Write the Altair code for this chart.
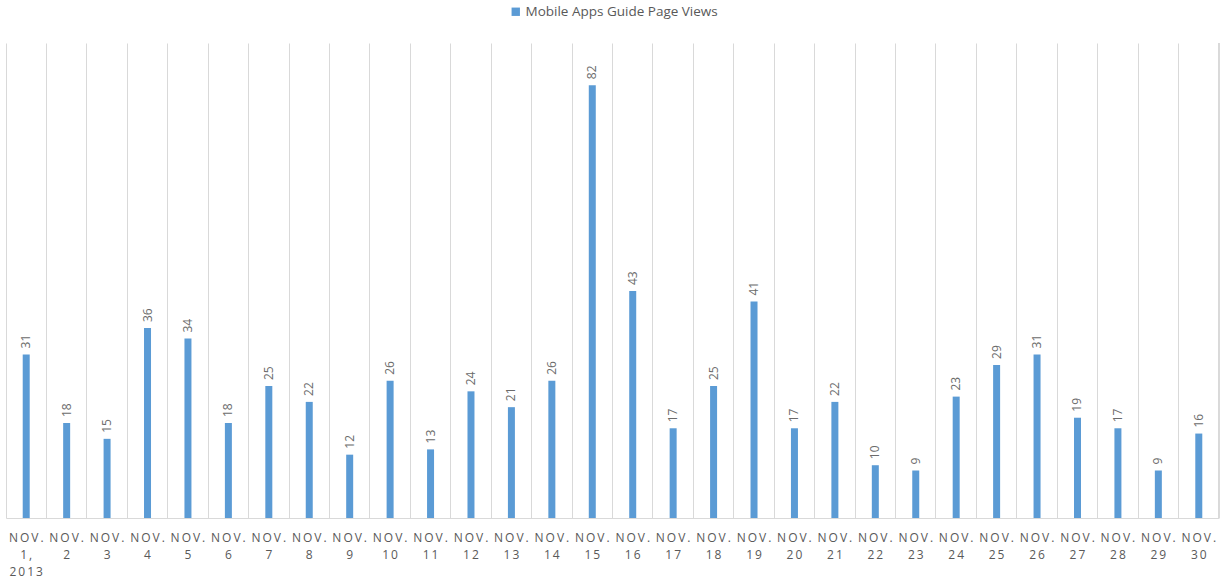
import altair as alt
import pandas as pd

THIN = "\u2009"


def spaced(s):
    return THIN.join(list(s))


days = [f"Nov {i}" for i in range(1, 31)]
labels = [spaced("NOV.") + "|" + spaced("1,") + "|" + spaced("2013")] + \
         [spaced("NOV.") + "|" + spaced(str(i)) for i in range(2, 31)]
views = [31, 18, 15, 36, 34, 18, 25, 22, 12, 26, 13, 24, 21, 26, 82,
         43, 17, 25, 41, 17, 22, 10, 9, 23, 29, 31, 19, 17, 9, 16]
series = "Mobile Apps Guide Page Views"

df = pd.DataFrame({"day": labels, "views": views, "series": [series] * len(views)})

W, H = 1213, 475
GRID = "#D9D9D9"
TXT = "#595959"
FONT = "Open Sans"

x = alt.X("day:N", sort=None, scale=alt.Scale(paddingInner=0, paddingOuter=0),
          axis=alt.Axis(title="", labelAngle=0, labelExpr="split(datum.value, '|')",
                        labelFont=FONT, labelFontSize=12, labelColor=TXT,
                        labelLineHeight=17, labelPadding=14, labelOverlap=False,
                        labelBound=False, ticks=False, domainColor=GRID,
                        grid=True, gridColor=GRID, gridWidth=1, bandPosition=0))
y = alt.Y("views:Q", scale=alt.Scale(domain=[0, 90], nice=False), axis=None)

bars = alt.Chart(df).mark_bar(size=7).encode(
    x=x, y=y,
    color=alt.Color("series:N", scale=alt.Scale(range=["#5B9BD5"]),
                    legend=alt.Legend(title="", orient="none", legendX=503, legendY=-38,
                                      symbolType="square", symbolSize=70, labelOffset=3,
                                      labelFont=FONT, labelFontSize=13.5, labelColor=TXT,
                                      labelLimit=400)),
)

text = alt.Chart(df).mark_text(angle=270, align="left", baseline="middle", dx=6,
                               font=FONT, fontSize=12, color="#6b6b6b").encode(
    x=x, y=y, text="views:Q")

edge = alt.Chart(df).mark_rule(color=GRID, strokeWidth=1).encode(
    x=alt.value(W), y=alt.value(0), y2=alt.value(H))

chart = alt.layer(edge, bars, text).properties(
    width=W, height=H,
    autosize=alt.AutoSizeParams(type="none"),
    padding={"left": 6, "top": 43, "right": 6, "bottom": 64},
).configure_view(stroke=None)

chart.save("out.html", embed_options={"renderer": "svg", "actions": False})
